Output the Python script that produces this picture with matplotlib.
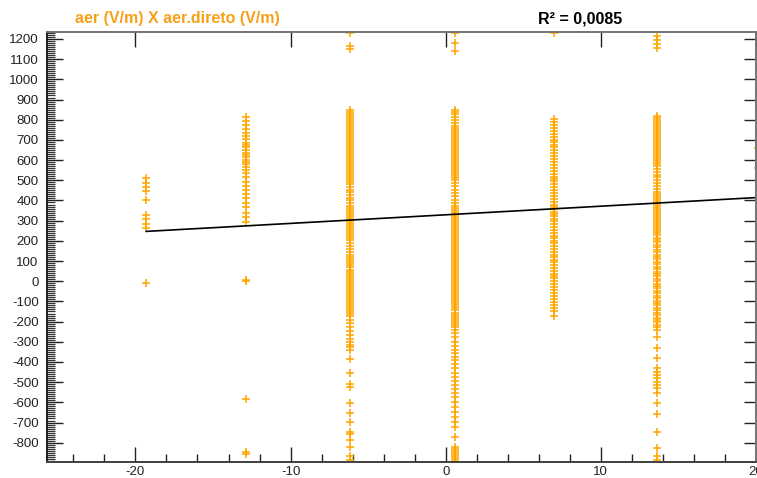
import matplotlib
matplotlib.use("Agg")
import matplotlib.pyplot as plt
from matplotlib.ticker import MultipleLocator, FixedLocator

plt.rcParams['font.family'] = ['Liberation Sans', 'DejaVu Sans']

# ---------------- data ----------------
col_x = [-19.3, -12.9, -6.2, 0.6, 7.0, 13.6, 20.15]

col_a = [510, 488, 466, 445, 400, 330, 306, 285, 262, -10]

col_b = [815, 795, 774, 753, 733, 719, 703, 686, 675, 663, 650, 637, 625, 614,
         600, 592, 581, 567, 551, 534, 515, 493, 472, 452, 430, 411, 389, 366,
         339, 316, 295, 0, 4, -583, -845, -855]

col_c = [1228, 1165, 1148,
         850, 840, 830, 820, 810, 800, 790, 780, 770, 760, 750, 740, 730, 720,
         710, 700, 690, 680, 670, 660, 650, 640, 630, 620, 610, 600, 590, 580,
         570, 560, 550, 540, 530, 520, 510, 500, 490, 480,
         466, 452, 440, 425, 412, 400, 388, 375,
         362, 352, 342, 332, 322, 312, 302, 292, 282, 272, 262, 252, 242, 232,
         222, 212, 202, 190, 176, 160, 145, 130, 118, 108, 98, 88, 78, 68, 58,
         48, 38, 28, 18, 8, -2, -12, -22, -32, -42, -52, -62, -72, -82, -92,
         -102, -112, -122, -132, -142, -152, -162, -172,
         -192, -209, -229, -246, -267, -284, -300, -316, -328, -341, -387,
         -457, -510, -523, -605, -655, -696, -746, -757, -787, -823, -866, -886]

col_d = [1230, 1180, 1140,
         850, 840, 830, 815, 798, 782,
         770, 760, 750, 740, 730, 720, 710, 700, 690, 680, 670, 660, 650, 640,
         630, 620, 610, 600, 590, 580, 570, 560, 550, 540, 530, 520, 510, 500,
         486, 470, 452, 435, 420, 404, 387,
         375, 365, 355, 345, 335, 325, 315, 305, 295, 285, 275, 265, 255, 245,
         235, 225, 215, 205, 195, 185, 175, 165, 155, 145, 135, 125, 115, 105,
         95, 85, 75, 65, 55, 45, 35, 25, 15, 5, -5, -15, -25, -35, -45, -55,
         -65, -75, -85, -95, -105, -115, -125, -135, -145, -155, -165, -175,
         -185, -195, -205, -215, -225,
         -242, -258, -278, -300, -321, -341, -358, -377, -391, -411, -432,
         -457, -473, -493, -515, -536, -556, -576, -597, -622, -647, -672,
         -696, -721, -771, -820, -830, -840, -850, -860, -870, -880, -890]

col_e = [1228,
         805, 790, 775, 760, 745, 730, 715, 700, 688, 676, 664, 650, 635, 620,
         605, 590, 575, 560, 545, 530, 518, 506, 494, 480, 465, 450, 435, 420,
         405, 392, 380, 368, 356, 345, 334, 322, 310, 298, 285, 270, 255, 240,
         225, 212, 200, 188, 175, 160, 145, 130, 118, 106, 94, 80, 65, 50, 38,
         26, 14, 0, -15, -30, -45, -60, -75, -90, -105, -120, -135, -150, -170]

col_f = [1215, 1195, 1175, 1155,
         820, 810, 800, 790, 780, 770, 760, 750, 740, 730, 720, 710, 700, 690,
         680, 670, 660, 650, 640, 630, 620, 610, 600, 590, 580, 570,
         556, 542, 528, 514, 500, 486, 472, 458, 444, 430,
         420, 410, 400, 390, 380, 370, 360, 350, 340, 330, 320, 310, 300, 290,
         280, 270, 260, 250, 240,
         228, 216, 204, 192, 180, 168, 156, 144, 132, 120, 108, 96, 84, 72, 60,
         48, 36, 24, 12, 0, -12, -24, -36, -48, -60, -72, -84, -96, -108,
         -120, -132, -144, -156, -168, -180, -192, -204, -216, -228,
         -242, -275, -332, -382, -431, -448, -464, -481, -497, -514, -530,
         -552, -604, -657, -749, -826, -867, -884]

col_g = [660, 560]

columns = [col_a, col_b, col_c, col_d, col_e, col_f, col_g]

fit_slope = 4.26
fit_intercept = 329.0
fit_x = [-19.3, 20.2]

title_text = "aer (V/m) X aer.direto (V/m)"
r2_text = "R² = 0,0085"

x_ticks = [-20, -10, 0, 10, 20]
y_ticks = [-800, -700, -600, -500, -400, -300, -200, -100, 0, 100, 200, 300,
           400, 500, 600, 700, 800, 900, 1000, 1100, 1200]

# ---------------- figure ----------------
W, H = 757, 478
fig = plt.figure(figsize=(W / 100, H / 100), dpi=100)
ax = fig.add_axes([47 / W, (H - 462.3) / H, (756 - 47) / W, (462.3 - 32.3) / H])

orange = '#FFA500'
for xv, ys in zip(columns and col_x, columns):
    ax.plot([xv] * len(ys), ys, linestyle='none', marker='+', markersize=5.2,
            markeredgewidth=1.1, color=orange, clip_on=True, zorder=2)

fy = [fit_intercept + fit_slope * v for v in fit_x]
ax.plot(fit_x, fy, color='black', linewidth=1.2, zorder=3)

xlim = (-25.7, 20.0)
ylim = (-897, 1233)
ax.set_xlim(*xlim)
ax.set_ylim(*ylim)

px = 0.72  # points per pixel
ax.xaxis.set_major_locator(FixedLocator(x_ticks))
ax.xaxis.set_minor_locator(MultipleLocator(2))
ax.yaxis.set_major_locator(FixedLocator(y_ticks))
ax.yaxis.set_minor_locator(MultipleLocator(10))
ax.tick_params(axis='x', which='major', direction='in', length=15 * px,
               width=1.0, color='#222222', labelsize=9.5, labelcolor='#222222',
               pad=3)
ax.tick_params(axis='x', which='minor', direction='in', length=8 * px,
               width=1.0, color='#222222')
ax.tick_params(axis='y', which='major', direction='in', length=16 * px,
               width=1.0, color='#222222', labelsize=9.5, labelcolor='#222222',
               pad=6)
ax.tick_params(axis='y', which='minor', direction='in', length=8 * px,
               width=0.9, color='#333333')
ax.set_xticklabels([str(t).replace('-', '-') for t in x_ticks])
ax.set_yticklabels([str(t) for t in y_ticks])

# right and top tick rows
axr = ax.twinx()
axr.set_ylim(*ylim)
axr.yaxis.set_major_locator(FixedLocator(y_ticks))
axr.tick_params(axis='y', direction='in', length=12 * px, width=1.0,
                color='#222222', labelright=False)
axt = ax.twiny()
axt.set_xlim(*xlim)
axt.xaxis.set_major_locator(FixedLocator(x_ticks))
axt.tick_params(axis='x', direction='in', length=15 * px, width=1.0,
                color='#222222', labeltop=False)

for a in (ax, axr, axt):
    a.spines['left'].set_color('#222222')
    a.spines['bottom'].set_color('#444444')
    a.spines['top'].set_color('#777777')
    a.spines['right'].set_color('#777777')
    for s in a.spines.values():
        s.set_linewidth(1.3)
axr.patch.set_visible(False)
axt.patch.set_visible(False)

fig.text(75 / W, 1 - 19 / H, title_text, ha='left', va='center',
         fontsize=11.5, fontweight='bold', color='#F7A11A')
fig.text(538 / W, 1 - 19 / H, r2_text, ha='left', va='center',
         fontsize=11.5, fontweight='bold', color='black')

fig.savefig('out.png', dpi=100)
